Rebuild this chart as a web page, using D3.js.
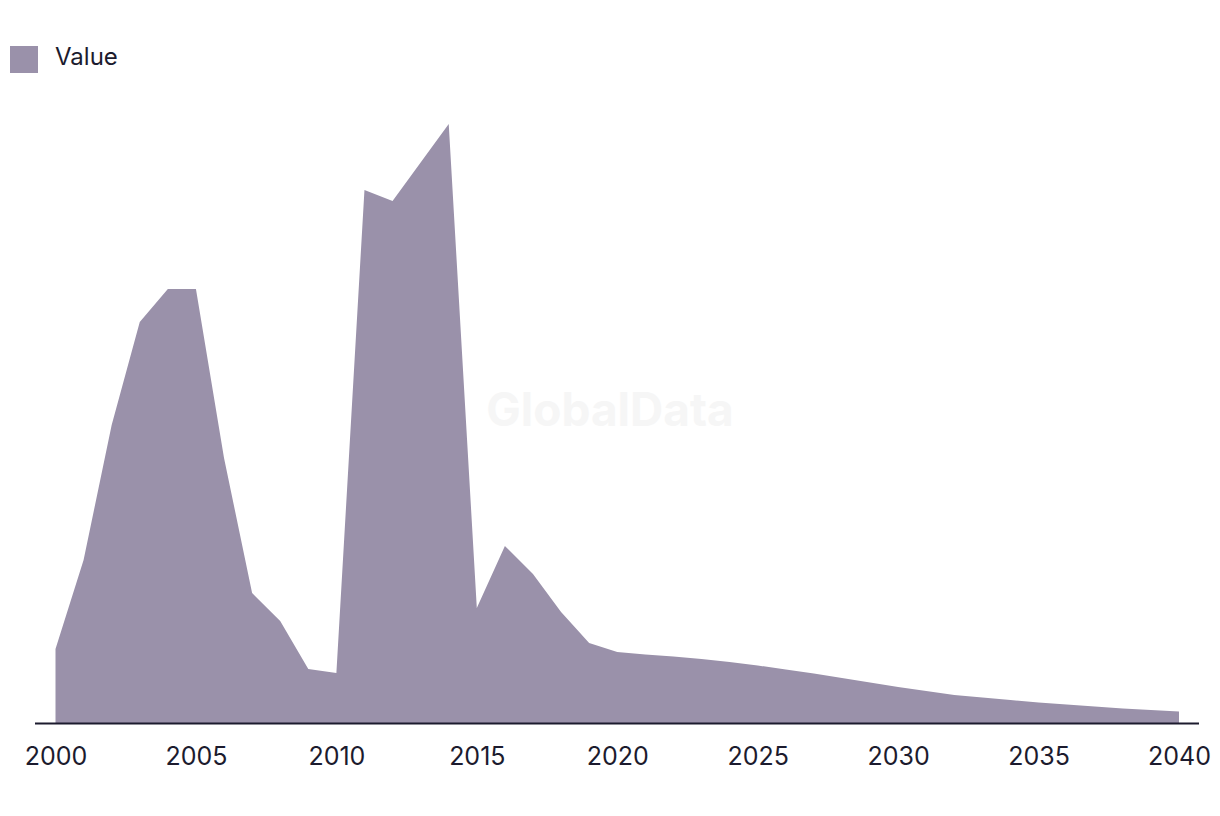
<!DOCTYPE html>
<html>
<head>
<meta charset="utf-8">
<script src="https://cdn.jsdelivr.net/npm/d3@7"></script>
<style>
  html, body { margin: 0; padding: 0; background: #ffffff; }
  svg { display: block; font-family: Inter, "Open Sans", sans-serif; }
</style>
</head>
<body>
<svg id="chart" width="1220" height="816"></svg>
<script>
const years = d3.range(2000, 2041);
const values = [
  74.5, 163.5, 298.5, 401.5, 434.5, 434.5, 265.5, 130.5, 102.5, 54.5,
  50.5, 533.5, 522.5, 561, 599.5, 115.5, 177.5, 149.5, 111.5, 80.5,
  71.5, 69, 67, 64.5, 61.5, 58, 54, 50, 45.5, 41,
  36.5, 32.5, 28.5, 26, 23.5, 21, 19, 17, 15, 13.5, 12
];
const tickYears = [2000, 2005, 2010, 2015, 2020, 2025, 2030, 2035, 2040];
const seriesName = "Value";

const fillColor = "#9a91aa";
const textColor = "#1c1b2e";

const svg = d3.select("#chart");
const data = years.map((y, i) => ({ year: y, value: values[i] }));

const x = d3.scaleLinear().domain([2000, 2040]).range([55.5, 1179]);
const y = d3.scaleLinear().domain([0, 600]).range([723.5, 123.5]);

// watermark
svg.append("text")
  .attr("x", 610).attr("y", 426)
  .attr("text-anchor", "middle")
  .attr("font-size", 46).attr("font-weight", 700)
  .attr("fill", "#f6f6f6")
  .attr("font-family", "Inter, sans-serif")
  .text("GlobalData");

const area = d3.area()
  .x(d => x(d.year))
  .y0(y(0))
  .y1(d => y(d.value));

svg.append("path")
  .datum(data)
  .attr("d", area)
  .attr("fill", fillColor);

// x axis
const axis = d3.axisBottom(x)
  .tickValues(tickYears)
  .tickFormat(d3.format("d"))
  .tickSize(0)
  .tickPadding(24);

const gx = svg.append("g")
  .attr("transform", `translate(0,${y(0)})`)
  .call(axis);
gx.select(".domain").remove();
gx.append("line")
  .attr("x1", 35).attr("x2", 1199)
  .attr("y1", 0).attr("y2", 0)
  .attr("stroke", textColor).attr("stroke-width", 2);
gx.selectAll(".tick text")
  .attr("fill", textColor)
  .attr("font-size", 25)
  .attr("font-family", "Inter, sans-serif");

// legend
const lg = svg.append("g");
lg.append("rect")
  .attr("x", 10).attr("y", 46).attr("width", 28).attr("height", 27)
  .attr("fill", fillColor);
lg.append("text")
  .attr("x", 55).attr("y", 65)
  .attr("fill", textColor)
  .attr("font-size", 24)
  .attr("font-family", "Inter, sans-serif")
  .text(seriesName);
</script>
</body>
</html>
